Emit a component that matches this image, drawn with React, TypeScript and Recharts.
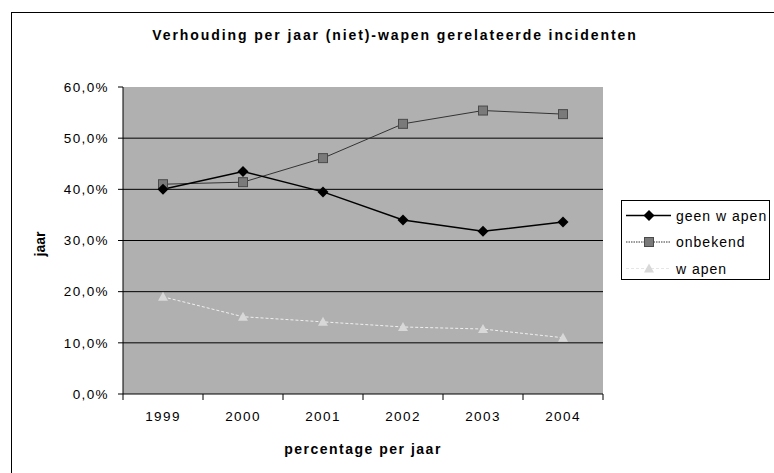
import React from 'react';
import { LineChart, Line, XAxis, YAxis, CartesianGrid, Label } from 'recharts';

const years = ['1999', '2000', '2001', '2002', '2003', '2004'];
const geenWapen = [0.400, 0.435, 0.395, 0.340, 0.318, 0.336];
const onbekend = [0.410, 0.414, 0.461, 0.528, 0.554, 0.547];
const wapen = [0.190, 0.151, 0.141, 0.131, 0.127, 0.110];
const yTicks = [0, 0.1, 0.2, 0.3, 0.4, 0.5, 0.6];
const seriesNames = ['geen w apen', 'onbekend', 'w apen'];

const data = years.map((y, i) => ({
  year: y,
  geen: geenWapen[i],
  onb: onbekend[i],
  wap: wapen[i],
}));

const FONT = '"Liberation Sans", Arial, sans-serif';

const fmt = (v: number) => (v * 100).toFixed(1).replace('.', ',') + '%';

const Diamond = (props: any) => {
  const { cx, cy } = props;
  if (cx == null || cy == null) return null;
  const r = 5.5;
  return <path d={`M${cx},${cy - r}L${cx + r},${cy}L${cx},${cy + r}L${cx - r},${cy}Z`} fill="#000" />;
};
const Square = (props: any) => {
  const { cx, cy } = props;
  if (cx == null || cy == null) return null;
  const r = 4.5;
  return <rect x={cx - r} y={cy - r} width={2 * r} height={2 * r} fill="#7a7a7a" stroke="#4a4a4a" strokeWidth={1} />;
};
const Triangle = (props: any) => {
  const { cx, cy } = props;
  if (cx == null || cy == null) return null;
  const r = 5;
  return <path d={`M${cx},${cy - r}L${cx + r},${cy + r * 0.8}L${cx - r},${cy + r * 0.8}Z`} fill="#d8d8d8" />;
};

const XTick = (props: any) => {
  const { x, y, payload, index } = props;
  const half = 40;
  return (
    <g>
      <line x1={x - half} y1={y} x2={x - half} y2={y + 6} stroke="#000" />
      {index === years.length - 1 && <line x1={x + half} y1={y} x2={x + half} y2={y + 6} stroke="#000" />}
      <text x={x} y={y + 27} textAnchor="middle" fontSize={13.5} fontFamily={FONT} fill="#000" letterSpacing={1.4}>
        {payload.value}
      </text>
    </g>
  );
};

const YTick = (props: any) => {
  const { x, y, payload } = props;
  return (
    <text x={x} y={y + 4.8} textAnchor="end" fontSize={13.5} fontFamily={FONT} fill="#000" letterSpacing={1.4}>
      {fmt(payload.value)}
    </text>
  );
};

const LegendBox = () => {
  const rows = [
    { name: seriesNames[0], stroke: '#000', dash: undefined, width: 1.5, M: Diamond },
    { name: seriesNames[1], stroke: '#333', dash: '1.5 1', width: 1, M: Square },
    { name: seriesNames[2], stroke: '#e6e6e6', dash: '3 2', width: 1, M: Triangle },
  ];
  return (
    <div style={{ position: 'absolute', left: 621, top: 200, width: 149, height: 80, border: '1px solid #000', boxSizing: 'border-box', background: '#fff' }}>
      <svg width={147} height={78} style={{ display: 'block' }}>
        {rows.map((r, i) => {
          const cy = 14.5 + i * 26.5;
          const M = r.M;
          return (
            <g key={r.name}>
              <line x1={4} y1={cy} x2={49} y2={cy} stroke={r.stroke} strokeWidth={r.width} strokeDasharray={r.dash} />
              <M cx={27} cy={cy} />
              <text x={54} y={cy + 5} fontSize={14} fontFamily={FONT} fill="#000" letterSpacing={1}>
                {r.name}
              </text>
            </g>
          );
        })}
      </svg>
    </div>
  );
};

export default function App() {
  return (
    <div style={{ position: 'absolute', left: 0, top: 0, width: 774, height: 473, background: '#fff', overflow: 'hidden' }}>
      <div style={{ position: 'absolute', left: 11, top: 12, width: 763, height: 461, borderLeft: '1px solid #000', borderTop: '1px solid #000' }} />
      <div
        style={{
          position: 'absolute',
          left: 0,
          top: 25,
          width: 790,
          textAlign: 'center',
          fontFamily: FONT,
          fontWeight: 'bold',
          fontSize: 14,
          letterSpacing: 1.9,
          lineHeight: '20px',
        }}
      >
        Verhouding per jaar (niet)-wapen gerelateerde incidenten
      </div>
      <div style={{ position: 'absolute', left: 0, top: 0 }}>
        <LineChart width={774} height={473} data={data} margin={{ top: 87, right: 171, bottom: 0, left: 0 }}>
          <CartesianGrid vertical={false} stroke="#000" fill="#b0b0b0" horizontalValues={[0.1, 0.2, 0.3, 0.4, 0.5]} />
          <XAxis
            dataKey="year"
            height={79}
            padding={{ left: 40, right: 40 }}
            tickSize={0}
            tickMargin={0}
            tickLine={false}
            tick={<XTick />}
            axisLine={{ stroke: '#000' }}
            interval={0}
          >
            <Label value="percentage per jaar" position="insideBottom" offset={19} fontSize={14} fontWeight="bold" fontFamily={FONT} fill="#000" letterSpacing={1.5} />
          </XAxis>
          <YAxis
            width={123}
            domain={[0, 0.6]}
            ticks={yTicks}
            tickSize={5}
            tickMargin={9}
            tick={<YTick />}
            axisLine={{ stroke: '#000' }}
            tickLine={{ stroke: '#000' }}
            interval={0}
          />
          <Line dataKey="wap" name={seriesNames[2]} stroke="#f0f0f0" strokeWidth={1} strokeDasharray="3 2" dot={<Triangle />} activeDot={false} isAnimationActive={false} />
          <Line dataKey="onb" name={seriesNames[1]} stroke="#333" strokeWidth={1} dot={<Square />} activeDot={false} isAnimationActive={false} />
          <Line dataKey="geen" name={seriesNames[0]} stroke="#000" strokeWidth={1.5} dot={<Diamond />} activeDot={false} isAnimationActive={false} />
        </LineChart>
      </div>
      <svg width={60} height={473} style={{ position: 'absolute', left: 12, top: 0 }}>
        <text
          x={28}
          y={244}
          transform="rotate(-90, 28, 244)"
          textAnchor="middle"
          dominantBaseline="central"
          fontSize={14}
          fontWeight="bold"
          fontFamily={FONT}
          fill="#000"
        >
          jaar
        </text>
      </svg>
      <LegendBox />
    </div>
  );
}
